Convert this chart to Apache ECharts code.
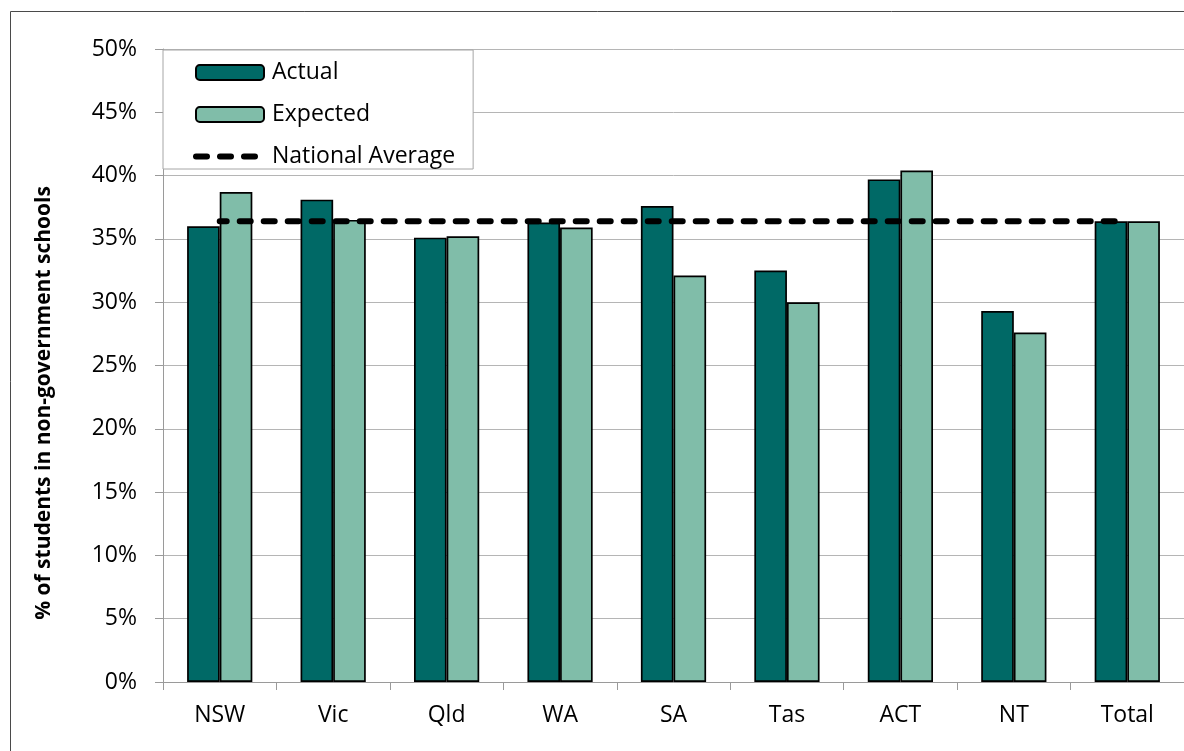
<!DOCTYPE html>
<html>
<head>
<meta charset="utf-8">
<script src="https://cdn.jsdelivr.net/npm/echarts@6/dist/echarts.min.js"></script>
<style>
html,body{margin:0;padding:0;background:#fff;}
#chart{width:1184px;height:751px;}
</style>
</head>
<body>
<div id="chart"></div>
<script>
const categories = ['NSW','Vic','Qld','WA','SA','Tas','ACT','NT','Total'];
const actual = [36.0, 38.1, 35.1, 36.3, 37.6, 32.5, 39.7, 29.3, 36.4];
const expected = [38.7, 36.5, 35.2, 35.9, 32.1, 30.0, 40.4, 27.6, 36.4];
const nationalAverage = [36.4, 36.4, 36.4, 36.4, 36.4, 36.4, 36.4, 36.4, 36.4];
const yAxisTitle = '% of students in non-government schools';

const FONT = 'Open Sans';
const chart = echarts.init(document.getElementById('chart'), null, {renderer:'canvas'});
chart.setOption({
  animation: false,
  backgroundColor: '#fff',
  textStyle: {fontFamily: FONT},
  grid: {left: 163, right: -1, top: 49, bottom: 69, containLabel: false},
  legend: {
    orient: 'vertical',
    left: 163, top: 50,
    padding: [11, 18, 1, 30],
    itemWidth: 68, itemHeight: 15, itemGap: 19,
    backgroundColor: '#fff',
    borderColor: '#a6a6a6', borderWidth: 1,
    textStyle: {fontFamily: FONT, fontSize: 23, color: '#000', padding: [0,0,0,3]},
    data: [
      'Actual',
      'Expected',
      {name: 'National Average', itemStyle: {opacity: 0},
       lineStyle: {width: 6, color: '#000', type: [11, 13], cap: 'round', dashOffset: 0}}
    ]
  },
  xAxis: {
    type: 'category',
    data: categories,
    axisLine: {lineStyle: {color: '#9a9a9a', width: 1}},
    axisTick: {show: true, length: 8, lineStyle: {color: '#9a9a9a'}},
    axisLabel: {fontFamily: FONT, fontSize: 23, color: '#000', margin: 22},
    splitLine: {show: false}
  },
  yAxis: {
    type: 'value',
    min: 0, max: 50, interval: 5,
    axisLine: {show: true, lineStyle: {color: '#9a9a9a', width: 1}},
    axisTick: {show: true, length: 8, lineStyle: {color: '#9a9a9a'}},
    axisLabel: {fontFamily: FONT, fontSize: 23, color: '#000', margin: 26, formatter: '{value}%'},
    splitLine: {lineStyle: {color: '#b5b5b5', width: 1}}
  },
  graphic: [
    {type: 'rect', silent: true, z: -10, shape: {x: 10.5, y: 11.5, width: 1400, height: 1000},
     style: {fill: 'none', stroke: '#4a4a4a', lineWidth: 1}},
    {type: 'text', silent: true, x: 44, y: 403, rotation: Math.PI/2,
     style: {text: yAxisTitle, fontFamily: FONT, fontWeight: 'bold', fontSize: 21, fill: '#000',
             align: 'center', verticalAlign: 'middle'}}
  ],
  series: [
    {name: 'Actual', type: 'bar', data: actual, barGap: '0%', barCategoryGap: '42.5%',
     itemStyle: {color: '#006966', borderColor: '#000', borderWidth: 1.7}},
    {name: 'Expected', type: 'bar', data: expected,
     itemStyle: {color: '#80bda9', borderColor: '#000', borderWidth: 1.7}},
    {name: 'National Average', type: 'line', data: nationalAverage, symbol: 'none', z: 5,
     lineStyle: {color: '#000', width: 6, type: [11, 13], cap: 'round', dashOffset: 4},
     itemStyle: {color: '#000'}}
  ]
});
</script>
</body>
</html>
